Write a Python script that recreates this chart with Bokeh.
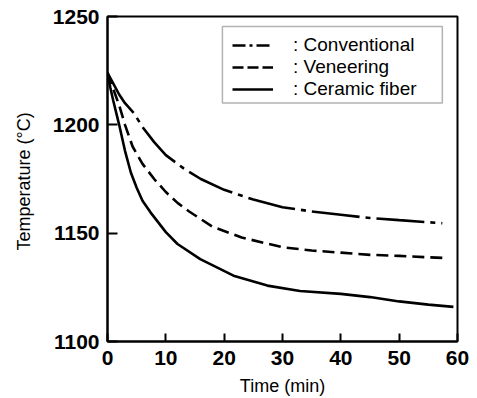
from bokeh.plotting import figure
from bokeh.models import Range1d, Legend, LegendItem, FixedTicker, ColumnDataSource, BoxAnnotation
from bokeh.embed import file_html
from bokeh.resources import INLINE

# Data
conv_t = [0, 1, 2, 3, 4.5, 6, 8, 10, 13, 16, 20, 25, 30, 35, 40, 45, 50, 57.4]
conv_T = [1224, 1219, 1214, 1210, 1205.5, 1199, 1192, 1186, 1180, 1175, 1170, 1165.5, 1162, 1160, 1158.5, 1157, 1156, 1154.6]

ven_t = [0, 1, 2, 3, 4.3, 6, 8, 10, 12, 14, 18, 23, 30, 35, 40, 45, 50, 58]
ven_T = [1224, 1216.5, 1209, 1200, 1190, 1182, 1175, 1169, 1164, 1160, 1153, 1148, 1143.5, 1142, 1141, 1140, 1139.5, 1138.5]

cer_t = [0, 0.5, 1, 2, 3, 4, 5, 6, 7.4, 10, 12, 15.9, 21.6, 27.4, 33, 40, 45, 50, 55, 59.3]
cer_T = [1224, 1217, 1211, 1200, 1188, 1178, 1171, 1165, 1159.5, 1150.5, 1145, 1138, 1130.4, 1125.8, 1123.3, 1122, 1120.5, 1118.5, 1117, 1116]

x_ticks = [0, 10, 20, 30, 40, 50, 60]
y_ticks = [1100, 1150, 1200, 1250]
labels = [": Conventional", ": Veneering", ": Ceramic fiber"]

FONT = "Liberation Sans"

p = figure(width=477, height=398, output_backend="svg", toolbar_location=None,
           x_range=Range1d(0, 60), y_range=Range1d(1100, 1250),
           min_border_left=107, min_border_right=20, min_border_top=16, min_border_bottom=55)
p.grid.visible = False
p.outline_line_color = "black"
p.outline_line_width = 2
p.background_fill_color = "white"
p.border_fill_color = "white"

for ax in (p.xaxis[0], p.yaxis[0]):
    ax.axis_line_width = 2
    ax.axis_line_color = "black"
    ax.major_tick_out = 0
    ax.major_tick_line_width = 2
    ax.major_tick_line_color = "black"
    ax.minor_tick_line_color = None
    ax.major_label_text_font = FONT
    ax.major_label_text_font_style = "bold"
    ax.major_label_text_font_size = "21px"
    ax.major_label_text_color = "black"
    ax.axis_label_text_font = FONT
    ax.axis_label_text_font_style = "normal"
    ax.axis_label_text_font_size = "18px"
    ax.axis_label_text_color = "black"

p.xaxis[0].ticker = FixedTicker(ticks=x_ticks)
p.yaxis[0].ticker = FixedTicker(ticks=y_ticks)
p.xaxis[0].major_tick_in = 8
p.yaxis[0].major_tick_in = 10
p.xaxis[0].major_label_standoff = 9
p.yaxis[0].major_label_standoff = 8
p.xaxis[0].axis_label = "Time (min)"
p.yaxis[0].axis_label = "Temperature  (°C)"
p.xaxis[0].axis_label_standoff = 8
p.yaxis[0].axis_label_standoff = 16

lw = 2.6
p.line(conv_t, conv_T, line_color="black", line_width=lw, line_dash="48 6 5 6")
p.line(ven_t, ven_T, line_color="black", line_width=lw, line_dash="12 6")
p.line(cer_t, cer_T, line_color="black", line_width=lw)

# legend frame
p.add_layout(BoxAnnotation(left=19.7, right=57.4, top=1245.4, bottom=1210.1,
                           fill_color="white", fill_alpha=1,
                           line_color="black", line_width=1.5))

# legend-only samples (no visible data)
nan = float("nan")
def blank():
    return ColumnDataSource(data=dict(x=[nan], y=[nan]))
r1 = p.line("x", "y", source=blank(), line_color="black", line_width=lw, line_dash="13 4 3 4")
r2 = p.line("x", "y", source=blank(), line_color="black", line_width=lw, line_dash="11 4")
r3 = p.line("x", "y", source=blank(), line_color="black", line_width=lw)

legend = Legend(items=[LegendItem(label=labels[0], renderers=[r1]),
                       LegendItem(label=labels[1], renderers=[r2]),
                       LegendItem(label=labels[2], renderers=[r3])],
                location=(125, 241))
legend.glyph_width = 41
legend.glyph_height = 20
legend.label_height = 20
legend.label_standoff = 20
legend.spacing = 0
legend.padding = 0
legend.margin = 0
legend.border_line_color = None
legend.background_fill_alpha = 0
legend.label_text_font = FONT
legend.label_text_font_size = "19px"
legend.label_text_color = "black"
p.add_layout(legend, "center")

open("out.html", "w").write(file_html(p, INLINE))
